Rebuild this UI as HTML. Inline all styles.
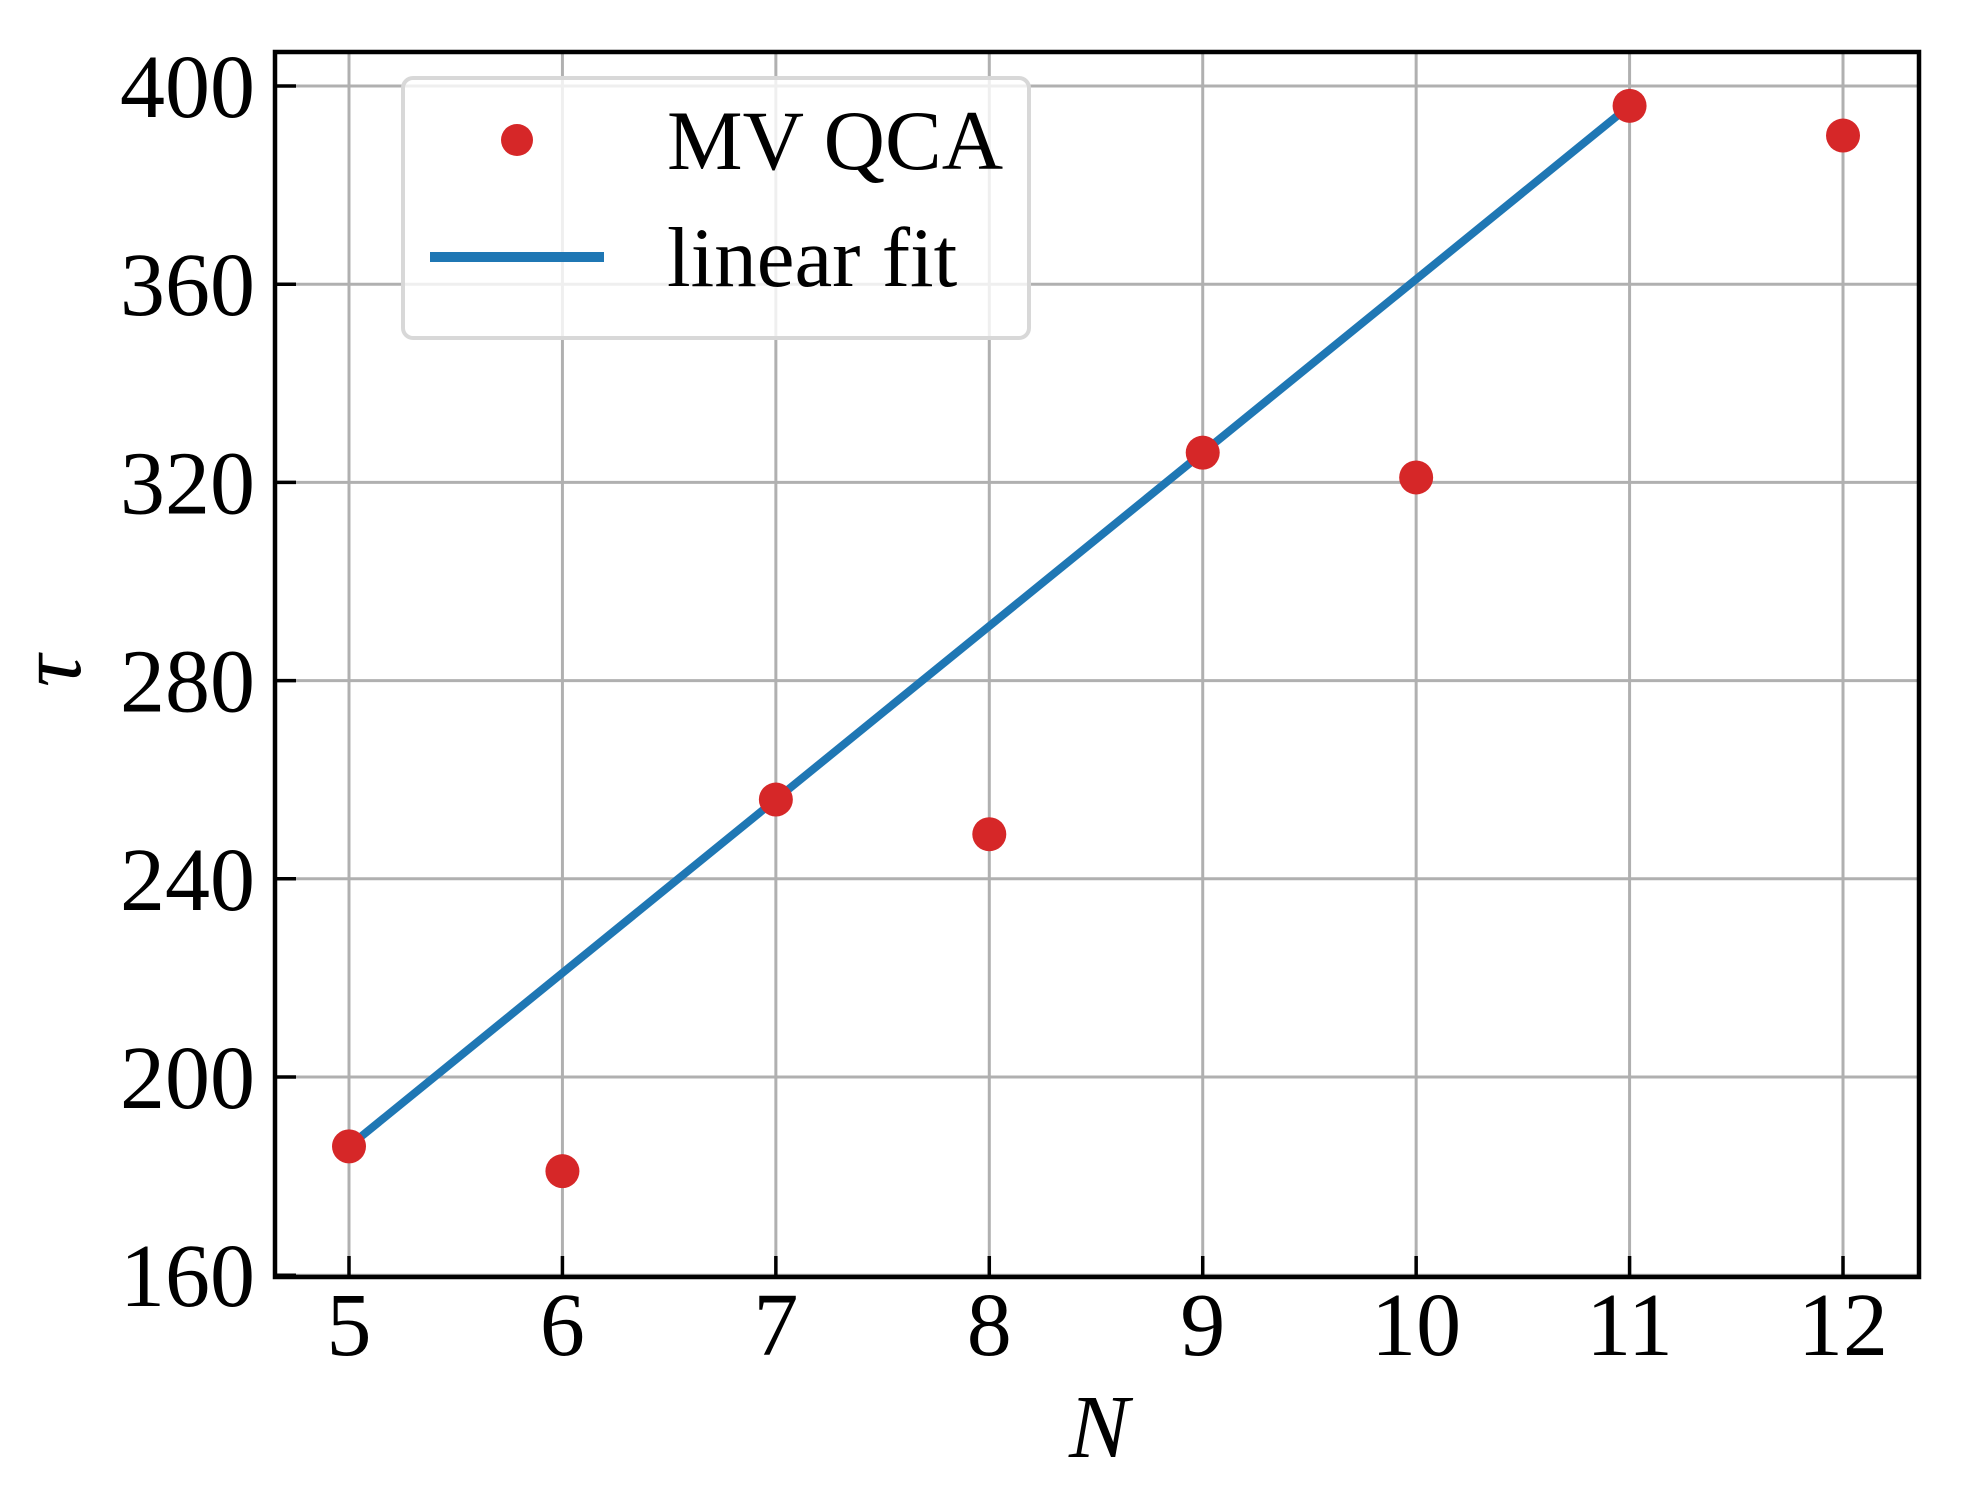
<!DOCTYPE html>
<html><head><meta charset="utf-8"><style>
html,body{margin:0;padding:0;background:#fff}
svg text{font-family:"Liberation Serif",serif;fill:#000}
</style></head><body>
<svg id="chart" width="1973" height="1502" xmlns="http://www.w3.org/2000/svg">
<rect width="1973" height="1502" fill="#fff"/>
<g id="grid"></g>
<g id="fit"></g>
<g id="pts"></g>
<rect x="275" y="52" width="1644" height="1225" fill="none" stroke="#000" stroke-width="4.5"/>
<g id="ticks"></g>
<text x="1099" y="1457" font-size="90" font-style="italic" text-anchor="middle">N</text>
<text x="0" y="0" font-size="90" font-style="italic" text-anchor="middle" transform="translate(80,671) rotate(-90)">τ</text>
<g>
<rect x="403" y="78" width="626" height="260" rx="10" fill="#fff" fill-opacity="0.8" stroke="#d8d8d8" stroke-width="4"/>
<circle cx="517" cy="140" r="16" fill="#d62728"/>
<text x="667" y="169" font-size="85">MV QCA</text>
<line x1="430" y1="257" x2="604" y2="257" stroke="#1f77b4" stroke-width="10"/>
<text x="667" y="286" font-size="85">linear fit</text>
</g>
</svg>
<script>
const xVals=[5,6,7,8,9,10,11,12];
const tauVals=[186,181,256,249,326,321,396,390];
const fitX=[5,11];
const fitY=[186,396];
const xTicks=[5,6,7,8,9,10,11,12];
const yTicks=[160,200,240,280,320,360,400];
const NS="http://www.w3.org/2000/svg";
const X=v=>349+(v-5)*213.43;
const Y=v=>86+(400-v)*4.955;
function mk(tag,attrs,parent){const e=document.createElementNS(NS,tag);for(const k in attrs)e.setAttribute(k,attrs[k]);parent.appendChild(e);return e;}
const grid=document.getElementById('grid'),ticks=document.getElementById('ticks');
xTicks.forEach(t=>{
  let g=mk('line',{x1:X(t),x2:X(t),y1:52,y2:1277,stroke:'#b0b0b0','stroke-width':3},grid);
  
  
  let tk=mk('line',{x1:X(t),x2:X(t),y1:1277,y2:1256,stroke:'#000','stroke-width':3.5},ticks);
  
  
  let tx=mk('text',{x:X(t),y:1355,'font-size':90,'text-anchor':'middle'},ticks);
  tx.textContent=t;
  
  
});
yTicks.forEach(t=>{
  let g=mk('line',{x1:275,x2:1919,y1:Y(t),y2:Y(t),stroke:'#b0b0b0','stroke-width':3},grid);
  
  
  let tk=mk('line',{x1:275,x2:296,y1:Y(t),y2:Y(t),stroke:'#000','stroke-width':3.5},ticks);
  
  
  let tx=mk('text',{x:255,y:Y(t)+31,'font-size':90,'text-anchor':'end'},ticks);
  tx.textContent=t;
  
  
});
const fl=mk('line',{x1:X(fitX[0]),y1:Y(fitY[0]),x2:X(fitX[1]),y2:Y(fitY[1]),stroke:'#1f77b4','stroke-width':8},document.getElementById('fit'));


const pts=document.getElementById('pts');
xVals.forEach((x,i)=>{
  let c=mk('circle',{cx:X(x),cy:Y(tauVals[i]),r:17,fill:'#d62728'},pts);
  
  
});
</script>
</body></html>
